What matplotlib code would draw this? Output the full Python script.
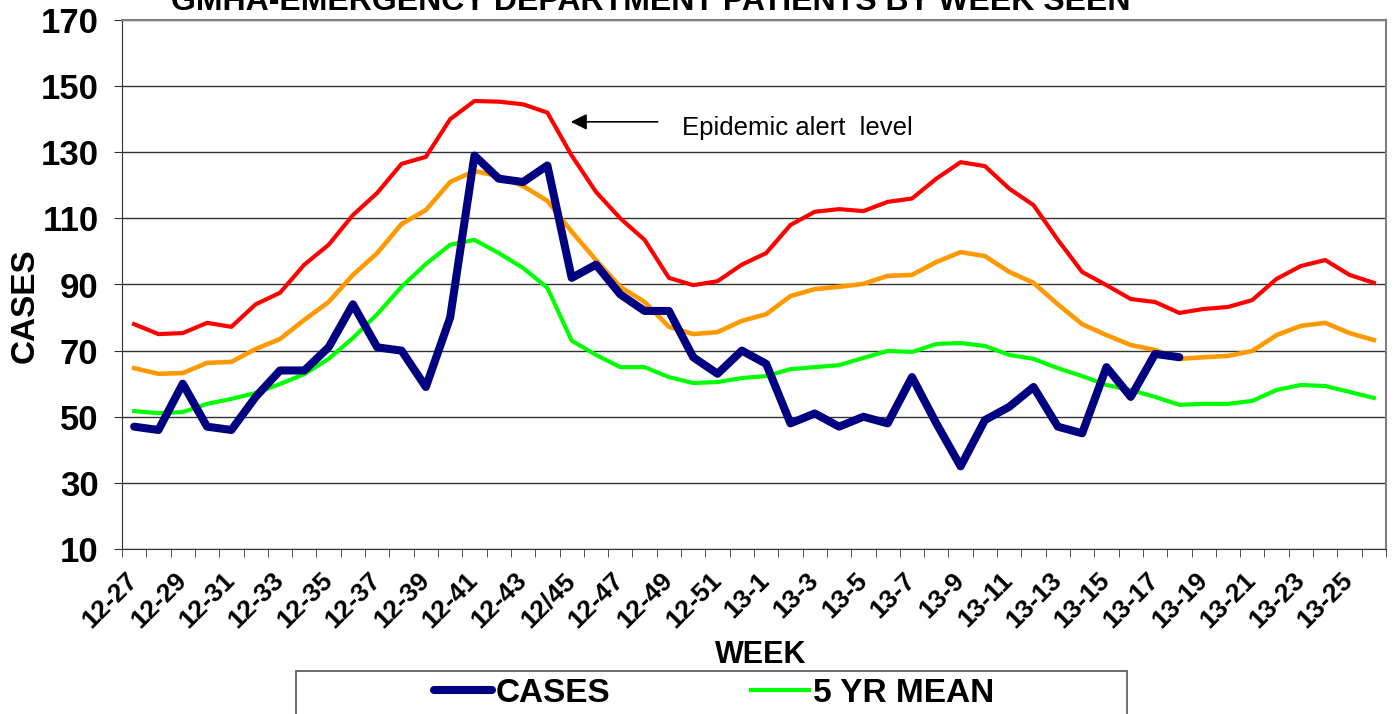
import numpy as np
import matplotlib
matplotlib.use('Agg')
import matplotlib.pyplot as plt
from matplotlib.patches import Rectangle

plt.rcParams['font.family'] = ['Liberation Sans', 'DejaVu Sans']

# 周次标签 (12-27 .. 12-52, 13-1 .. 13-26)
weeks = ['12-%d' % w for w in range(27, 53)] + ['13-%d' % w for w in range(1, 27)]
weeks[18] = '12/45'

cases = [47, 46, 60, 47, 46, 56, 64, 64, 71, 84, 71, 70, 59, 80, 129, 122, 121, 126,
         92, 96, 87, 82, 82, 68, 63, 70, 66, 48, 51, 47, 50, 48, 62, 48, 35, 49, 53,
         59, 47, 45, 65, 56, 69, 68]

mean_5yr = [51.7, 51.1, 51.4, 53.9, 55.4, 57.2, 59.9, 62.9, 67.5, 73.8, 81.0, 89.3,
            96.2, 102.0, 103.5, 99.5, 95.0, 89.0, 73.0, 68.7, 65.0, 65.0, 62.0, 60.2,
            60.5, 61.7, 62.3, 64.4, 65.0, 65.6, 67.8, 69.9, 69.6, 72.0, 72.3, 71.4,
            68.7, 67.5, 64.7, 62.3, 59.6, 58.1, 56.0, 53.6, 53.9, 53.9, 54.8, 58.1,
            59.6, 59.3, 57.5, 55.7]

upper_mean = [64.7, 63.0, 63.2, 66.3, 66.6, 70.5, 73.5, 79.3, 84.7, 92.9, 99.5, 108.3,
              112.5, 121.0, 124.3, 122.8, 119.8, 115.3, 106.0, 97.4, 89.3, 84.7, 77.2,
              75.0, 75.6, 79.0, 81.0, 86.5, 88.6, 89.3, 90.2, 92.6, 92.9, 96.8, 99.8,
              98.6, 93.8, 90.5, 84.0, 78.0, 74.7, 71.7, 70.2, 67.5, 68.0, 68.4, 69.9,
              74.7, 77.5, 78.4, 75.3, 73.2]

alert_level = [78.0, 75.0, 75.3, 78.4, 77.2, 84.0, 87.5, 96.0, 102.0, 111.0, 117.7,
               126.5, 128.6, 140.0, 145.5, 145.3, 144.5, 142.0, 129.0, 118.0, 110.0,
               103.5, 92.0, 89.8, 91.0, 96.0, 99.5, 108.0, 112.0, 112.8, 112.2, 115.0,
               116.0, 122.0, 127.0, 125.8, 119.0, 114.0, 103.5, 93.8, 89.8, 85.6, 84.7,
               81.4, 82.6, 83.2, 85.3, 91.7, 95.6, 97.4, 92.9, 90.5]

x = np.arange(len(weeks))

fig = plt.figure(figsize=(13.93, 7.14), dpi=100)
ax = fig.add_axes([122 / 1393, 1 - 549 / 714, 1264 / 1393, 529 / 714])

ax.plot(x, alert_level, color='#FF0000', lw=3, solid_joinstyle='round', zorder=3)
ax.plot(x, upper_mean, color='#FF9900', lw=3.3, solid_joinstyle='round', zorder=3)
l_mean, = ax.plot(x, mean_5yr, color='#00FF00', lw=3, solid_joinstyle='round', zorder=3, label='5 YR MEAN')
l_cases, = ax.plot(x[:len(cases)], cases, color='#000080', lw=5.8, solid_joinstyle='round',
                   solid_capstyle='round', zorder=4, label='CASES')

ax.set_xlim(-0.5, len(weeks) - 0.5)
ax.set_ylim(10, 170)
ax.set_yticks(np.arange(10, 171, 20))
ax.yaxis.grid(True, color='#333333', lw=1)
ax.set_axisbelow(True)

ax.set_xticks(x[::2])
ax.set_xticklabels(weeks[::2], rotation=45, ha='right', va='center', rotation_mode='anchor',
                   fontsize=19, fontweight='bold')
ax.set_xticks(np.arange(-0.5, len(weeks), 1), minor=True)
ax.tick_params(axis='x', which='major', length=0, pad=20)
ax.tick_params(axis='x', which='minor', length=6, color='#333333')
ax.tick_params(axis='y', length=6, pad=11, labelsize=25, color='#333333')
for lab in ax.get_yticklabels():
    lab.set_fontweight('bold')

for s in ['top', 'right']:
    ax.spines[s].set_color('#808080')
    ax.spines[s].set_linewidth(1.5)
ax.spines['left'].set_color('#333333')
ax.spines['bottom'].set_color('#333333')

ax.set_ylabel('CASES', fontsize=24, fontweight='bold')
ax.yaxis.set_label_coords(-0.064, 0.46)
ax.set_xlabel('WEEK', fontsize=22, fontweight='bold')
ax.xaxis.set_label_coords(0.505, -0.172)

fig.text(651 / 1393, 1 - 10 / 714, 'GMHA-EMERGENCY DEPARTMENT PATIENTS BY WEEK SEEN',
         ha='center', va='baseline', fontsize=23, fontweight='bold')

# 流行警戒线标注
ax.annotate('', xy=(17.85, 139.2), xytext=(21.65, 139.2),
            arrowprops=dict(arrowstyle='-|>', color='black', lw=1.2, mutation_scale=24))
ax.text(22.55, 137.3, 'Epidemic alert  level', fontsize=18.5, va='center', ha='left')

# 图例
fig.patches.append(Rectangle((296 / 1393, -0.1), 831 / 1393, 0.1 + 1 - 671 / 714,
                             transform=fig.transFigure, fill=False, ec='#555555', lw=1.2))
fig.legend(handles=[l_cases, l_mean], loc='center', bbox_to_anchor=(714 / 1393, 1 - 693 / 714),
           ncol=2, frameon=False, prop={'size': 24, 'weight': 'bold'},
           handlelength=1.75, handletextpad=0.12, columnspacing=4.2, borderpad=0)

fig.savefig('out.png', dpi=100)
